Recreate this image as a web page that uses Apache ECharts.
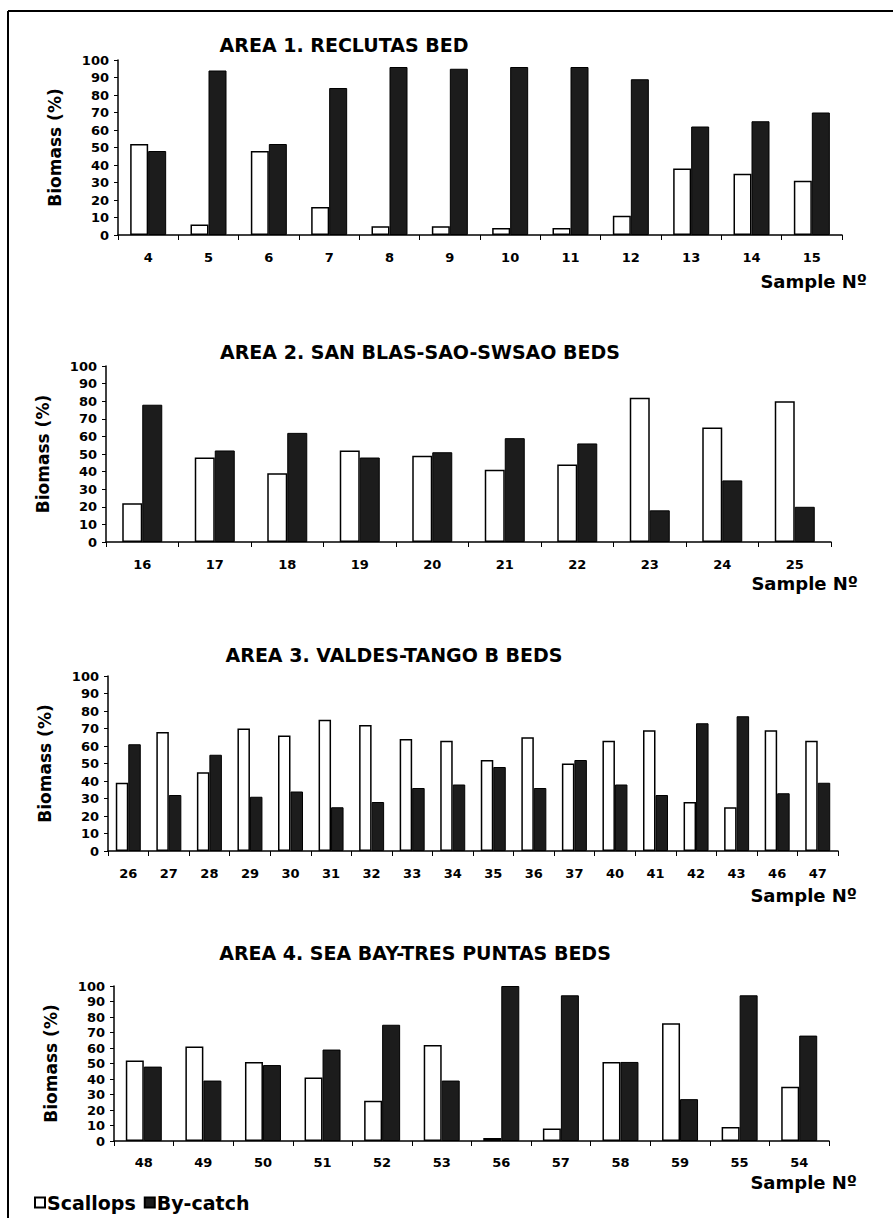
<!DOCTYPE html>
<html>
<head>
<meta charset="utf-8">
<script src="https://cdn.jsdelivr.net/npm/echarts@6/dist/echarts.min.js"></script>
<style>
  html, body { margin: 0; padding: 0; background: #fff; }
  #chart { width: 893px; height: 1222px; }
</style>
</head>
<body>
<div id="chart"></div>
<script>
// Biomass share (%) of scallops vs. by-catch per sample, by fishing area
const area1Samples = ['4', '5', '6', '7', '8', '9', '10', '11', '12', '13', '14', '15'];
const area1Scallops = [52, 6, 48, 16, 5, 5, 4, 4, 11, 38, 35, 31];
const area1Bycatch = [48, 94, 52, 84, 96, 95, 96, 96, 89, 62, 65, 70];

const area2Samples = ['16', '17', '18', '19', '20', '21', '22', '23', '24', '25'];
const area2Scallops = [22, 48, 39, 52, 49, 41, 44, 82, 65, 80];
const area2Bycatch = [78, 52, 62, 48, 51, 59, 56, 18, 35, 20];

const area3Samples = ['26', '27', '28', '29', '30', '31', '32', '33', '34', '35', '36', '37', '40', '41', '42', '43', '46', '47'];
const area3Scallops = [39, 68, 45, 70, 66, 75, 72, 64, 63, 52, 65, 50, 63, 69, 28, 25, 69, 63];
const area3Bycatch = [61, 32, 55, 31, 34, 25, 28, 36, 38, 48, 36, 52, 38, 32, 73, 77, 33, 39];

const area4Samples = ['48', '49', '50', '51', '52', '53', '56', '57', '58', '59', '55', '54'];
const area4Scallops = [52, 61, 51, 41, 26, 62, 2, 8, 51, 76, 9, 35];
const area4Bycatch = [48, 39, 49, 59, 75, 39, 100, 94, 51, 27, 94, 68];

const areaTitles = [
  'AREA 1. RECLUTAS BED',
  'AREA 2. SAN BLAS-SAO-SWSAO BEDS',
  'AREA 3. VALDES-TANGO B BEDS',
  'AREA 4. SEA BAY-TRES PUNTAS BEDS'
];
const yTickMin = 0, yTickMax = 100, yTickStep = 10;
const yAxisTitle = 'Biomass (%)';
const xAxisTitle = 'Sample Nº';
const scallopsName = 'Scallops';
const bycatchName = 'By-catch';

const FONT = '"DejaVu Sans", "Liberation Sans", Arial, sans-serif';
const INK = '#000';
const DARK = '#1c1c1c';

const areas = [
  { samples: area1Samples, scallops: area1Scallops, bycatch: area1Bycatch },
  { samples: area2Samples, scallops: area2Scallops, bycatch: area2Bycatch },
  { samples: area3Samples, scallops: area3Scallops, bycatch: area3Bycatch },
  { samples: area4Samples, scallops: area4Scallops, bycatch: area4Bycatch }
];

// panel geometry (pixels)
const panels = [
  { left: 118, top: 60,  width: 724, height: 175, titleX: 344, titleY: 45,  nameX: 867, nameY: 281,  barWidth: 18,   labelGap: 16 },
  { left: 106, top: 366, width: 725, height: 176, titleX: 420, titleY: 352, nameX: 858, nameY: 583,  barWidth: 20,   labelGap: 16 },
  { left: 108, top: 676, width: 730, height: 175, titleX: 394, titleY: 655, nameX: 857, nameY: 895,  barWidth: 12.5, labelGap: 16 },
  { left: 114, top: 986, width: 715, height: 155, titleX: 415, titleY: 953, nameX: 857, nameY: 1182, barWidth: 18,   labelGap: 15 }
];

const grid = [], xAxis = [], yAxis = [], series = [], graphic = [];

panels.forEach((p, i) => {
  const a = areas[i];
  grid.push({ left: p.left, top: p.top, width: p.width, height: p.height, containLabel: false });
  xAxis.push({
    type: 'category', gridIndex: i, data: a.samples, boundaryGap: true,
    axisLine: { show: true, lineStyle: { color: INK, width: 1.5 } },
    axisTick: { show: true, length: 5, lineStyle: { color: INK, width: 1 } },
    axisLabel: { margin: p.labelGap, color: INK, fontFamily: FONT, fontWeight: 'bold', fontSize: 13, interval: 0 },
    splitLine: { show: false }
  });
  yAxis.push({
    type: 'value', gridIndex: i, min: yTickMin, max: yTickMax, interval: yTickStep,
    name: yAxisTitle, nameLocation: 'middle', nameGap: 55, nameRotate: 90,
    nameTextStyle: { color: INK, fontFamily: FONT, fontWeight: 'bold', fontSize: 17 },
    axisLine: { show: true, lineStyle: { color: INK, width: 1.5 } },
    axisTick: { show: true, length: 4, lineStyle: { color: INK, width: 1 } },
    axisLabel: { margin: 9, color: INK, fontFamily: FONT, fontWeight: 'bold', fontSize: 13 },
    splitLine: { show: false }
  });
  series.push({
    name: scallopsName, type: 'bar', xAxisIndex: i, yAxisIndex: i,
    data: a.scallops, barWidth: p.barWidth, barGap: '0%',
    itemStyle: { color: '#fff', borderColor: INK, borderWidth: 1.5 },
    silent: true, animation: false
  });
  series.push({
    name: bycatchName, type: 'bar', xAxisIndex: i, yAxisIndex: i,
    data: a.bycatch, barWidth: p.barWidth, barGap: '0%',
    itemStyle: { color: DARK, borderColor: INK, borderWidth: 1 },
    silent: true, animation: false
  });
  graphic.push({
    type: 'text', x: p.titleX, y: p.titleY,
    style: { text: areaTitles[i], align: 'center', verticalAlign: 'middle',
      fill: INK, font: 'bold 19px ' + FONT }
  });
  graphic.push({
    type: 'text', x: p.nameX, y: p.nameY,
    style: { text: xAxisTitle, align: 'right', verticalAlign: 'middle',
      fill: INK, font: 'bold 18px ' + FONT }
  });
});

// frame lines along the top and left edges
graphic.push({ type: 'line', shape: { x1: 8, y1: 11, x2: 893, y2: 11 }, style: { stroke: INK, lineWidth: 2 } });
graphic.push({ type: 'line', shape: { x1: 8, y1: 11, x2: 8, y2: 1218 }, style: { stroke: INK, lineWidth: 2 } });

const chart = echarts.init(document.getElementById('chart'), null, { renderer: 'svg' });
chart.setOption({
  backgroundColor: '#fff',
  animation: false,
  grid, xAxis, yAxis, series, graphic,
  legend: {
    data: [scallopsName, bycatchName],
    left: 29, top: 1188,
    icon: 'rect', itemWidth: 10, itemHeight: 10, itemGap: 8,
    selectedMode: false,
    textStyle: { color: INK, fontFamily: FONT, fontWeight: 'bold', fontSize: 19, padding: [0, 0, 0, -3] }
  }
});
</script>
</body>
</html>
